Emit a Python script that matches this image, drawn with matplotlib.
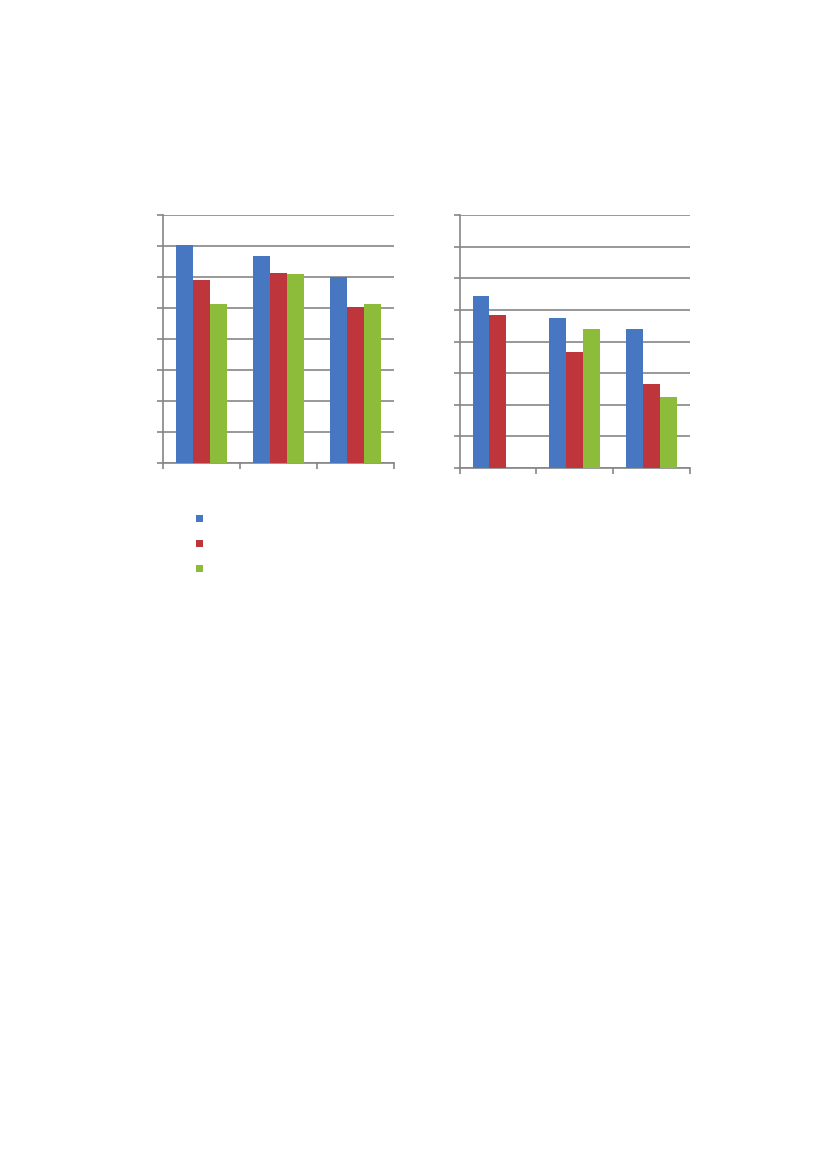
import matplotlib
matplotlib.use("Agg")
import matplotlib.pyplot as plt
import numpy as np
from matplotlib.patches import Rectangle

categories = ["A", "B", "C"]
left_s1 = [7.03, 6.69, 5.99]
left_s2 = [5.91, 6.12, 5.03]
left_s3 = [5.13, 6.09, 5.13]
right_s1 = [5.45, 4.75, 4.39]
right_s2 = [4.85, 3.67, 2.65]
right_s3 = [0.0, 4.39, 2.25]
y_max = 8

colors = ["#4877C2", "#BF353C", "#8DBB3A"]
grid_c = "#868686"

fig = plt.figure(figsize=(8.27, 11.69), dpi=100)

def draw(ax, series):
    x = np.arange(len(categories))
    w = 0.22
    for i, (vals, c) in enumerate(zip(series, colors)):
        ax.bar(x + (i - 1) * w, vals, width=w, color=c, zorder=3,
               edgecolor="none")
    ax.set_xlim(-0.5, len(categories) - 0.5)
    ax.set_ylim(0, y_max)
    ax.set_yticks(np.arange(0, y_max + 1, 1))
    ax.yaxis.grid(True, color=grid_c, linewidth=1.2, zorder=0)
    ax.set_axisbelow(True)
    ax.set_xticks([])
    ax.set_xticks(np.arange(-0.5, len(categories)), minor=True)
    ax.tick_params(axis="x", which="minor", direction="out", length=4,
                   color=grid_c, width=1.2, labelbottom=False)
    ax.tick_params(axis="y", direction="out", length=4, color=grid_c,
                   width=1.2, labelleft=False)
    for s in ["top", "right"]:
        ax.spines[s].set_visible(False)
    for s in ["left", "bottom"]:
        ax.spines[s].set_color(grid_c)
        ax.spines[s].set_linewidth(1.2)

W, H = 827, 1169
ax1 = fig.add_axes([163 / W, 1 - 463 / H, 231 / W, 248 / H])
draw(ax1, [left_s1, left_s2, left_s3])
ax2 = fig.add_axes([459.5 / W, 1 - 468 / H, 230.5 / W, 253 / H])
draw(ax2, [right_s1, right_s2, right_s3])

# legend keys (no label text in the reference)
for i, c in enumerate(colors):
    cy = 518.5 + 25 * i
    fig.add_artist(Rectangle(((199.5 - 3.5) / W, 1 - (cy + 3.5) / H),
                             7 / W, 7 / H, transform=fig.transFigure,
                             facecolor=c, edgecolor="none"))

fig.savefig("out.png", dpi=100)
